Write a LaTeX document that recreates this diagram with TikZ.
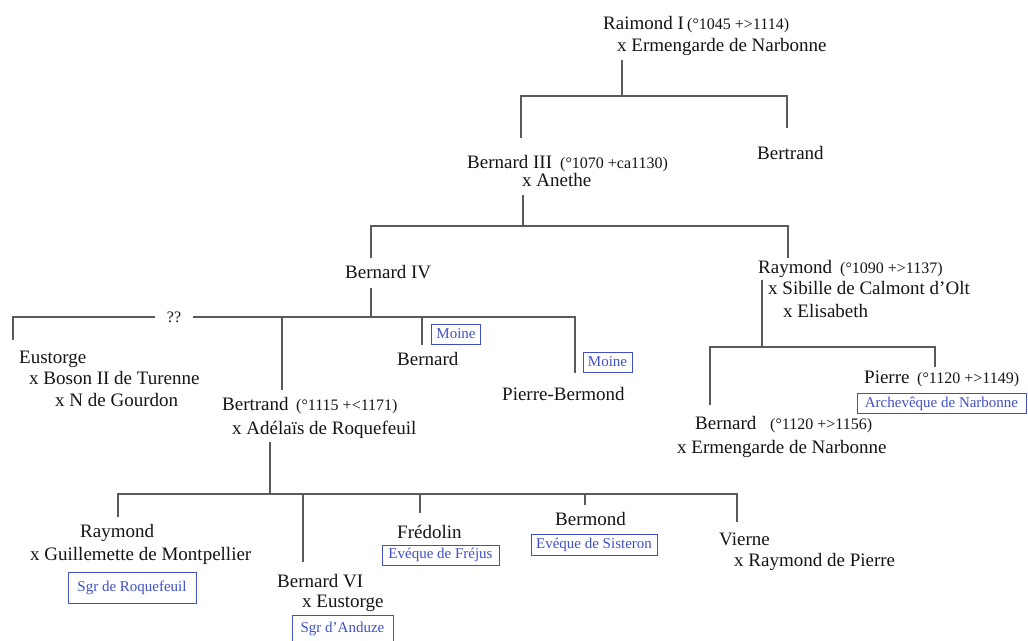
\documentclass[tikz,border=0pt]{standalone}
\usepackage{fontspec}
\setmainfont{Liberation Serif}
\definecolor{txt}{HTML}{141414}
\definecolor{lncol}{HTML}{5A5A5A}
\definecolor{tagblue}{HTML}{3F4FC8}
\newcommand{\nmfont}{\fontsize{19}{23}\selectfont}
\newcommand{\dtfont}{\fontsize{16}{19}\selectfont}
\newcommand{\tgfont}{\fontsize{15}{18}\selectfont}
\tikzset{
  pname/.style={anchor=base west, inner sep=0pt, font=\nmfont, text=txt},
  pdate/.style={anchor=base west, inner sep=0pt, font=\dtfont, text=txt},
  titlebox/.style={draw=tagblue, line width=0.9pt, text=tagblue, font=\tgfont, inner sep=0pt, minimum height=20pt, anchor=center},
  famline/.style={draw=lncol, line width=1.3pt}
}
\begin{document}
\begin{tikzpicture}[x=1pt,y=-1pt]
\useasboundingbox (0,0) rectangle (1028,640);
\clip (0,0) rectangle (1028,640);
% ---- texts
\node[pname] (r1) at (603,29) {Raimond I};
\node[pdate] (r1d) at (687,29) {(°1045 +>1114)};
\node[pname] (r1x) at (617,51) {x Ermengarde de Narbonne};
\node[pname] (b3) at (467,168) {Bernard III};
\node[pdate] (b3dt) at (560,168) {(°1070 +ca1130)};
\node[pname] (b3x) at (522,186) {x Anethe};
\node[pname] (bt) at (757,159) {Bertrand};
\node[pname] (b4) at (345,278) {Bernard IV};
\node[pname] (ra) at (758,273) {Raymond};
\node[pdate] (radt) at (840,273) {(°1090 +>1137)};
\node[pname] (rax1) at (768,294) {x Sibille de Calmont d'Olt};
\node[pname] (rax2) at (783,317) {x Elisabeth};
\node[pname] (eu) at (19,363) {Eustorge};
\node[pname] (eux1) at (29,384) {x Boson II de Turenne};
\node[pname] (eux2) at (55,406) {x N de Gourdon};
\node[pname] (be) at (222,410) {Bertrand};
\node[pdate] (bedt) at (296,410) {(°1115 +<1171)};
\node[pname] (bex) at (232,434) {x Adélaïs de Roquefeuil};
\node[pname] (bn) at (397,365) {Bernard};
\node[pname] (pb) at (502,400) {Pierre-Bermond};
\node[pname] (pi) at (864,383) {Pierre};
\node[pdate] (pidt) at (917,383) {(°1120 +>1149)};
\node[pname] (bnr) at (695,429) {Bernard};
\node[pdate] (bnrdt) at (770,429) {(°1120 +>1156)};
\node[pname] (bnrx) at (677,453) {x Ermengarde de Narbonne};
\node[pname] (rl) at (80,537) {Raymond};
\node[pname] (rlx) at (30,560) {x Guillemette de Montpellier};
\node[pname] (bv) at (277,587) {Bernard VI};
\node[pname] (bvx) at (302,607) {x Eustorge};
\node[pname] (fr) at (397,538) {Frédolin};
\node[pname] (bm) at (555,525) {Bermond};
\node[pname] (vi) at (719,545) {Vierne};
\node[pname] (vix) at (734,566) {x Raymond de Pierre};
% ---- title boxes
\node[titlebox, minimum width=49pt] (moine1) at (456,334) {Moine};
\node[titlebox, minimum width=49pt] (moine2) at (607.5,362) {Moine};
\node[titlebox, minimum width=169pt] (arch) at (941.5,403.5) {Archevêque de Narbonne};
\node[titlebox, minimum width=128pt, minimum height=31pt] (roq) at (132,587.5) {Sgr de Roquefeuil};
\node[titlebox, minimum width=101pt, minimum height=31pt] (andbox) at (342.5,631) {};
\node[inner sep=0pt, font=\tgfont, text=tagblue] (andt) at (342.5,628.5) {Sgr d'Anduze};
\node[titlebox, minimum width=117pt] (frej) at (440.5,555) {Evéque de Fréjus};
\node[titlebox, minimum width=126pt, minimum height=21pt] (sist) at (594,544.5) {Evéque de Sisteron};
% ---- unknown marker
\node[inner xsep=12pt, inner ysep=0pt, font=\dtfont, text=txt] (qq) at (174,317) {??};
% ---- coordinates
\coordinate (r1down) at (622,60);
\coordinate (r1j) at (622,96);
\coordinate (b3top) at (521,138);
\coordinate (bttop) at (787,128);
\coordinate (b3down) at (523,195);
\coordinate (b3j) at (523,226);
\coordinate (b4top) at (371,258);
\coordinate (ratop) at (788,258);
\coordinate (b4down) at (371,288);
\coordinate (b4j) at (371,317);
\coordinate (eutop) at (13,340);
\coordinate (bej) at (282,317);
\coordinate (betop) at (282,390);
\coordinate (bnj) at (422,317);
\coordinate (bntop) at (422,345);
\coordinate (pbtop) at (575,373);
\coordinate (radown) at (762,280);
\coordinate (raj) at (762,347);
\coordinate (bnrtop) at (710,405);
\coordinate (pitop) at (935,367);
\coordinate (bedown) at (270,442);
\coordinate (bebj) at (270,494);
\coordinate (rltop) at (118,517);
\coordinate (vitop) at (737,522);
\coordinate (bvj) at (303,494);
\coordinate (bvtop) at (303,562);
\coordinate (frj) at (420,494);
\coordinate (frtop) at (420,513);
\coordinate (bmj) at (585,494);
\coordinate (bmtop) at (585,505);
% ---- connectors
\draw[famline] (r1down) -- (r1j);
\draw[famline] (b3top) |- (r1j) -| (bttop);
\draw[famline] (b3down) -- (b3j);
\draw[famline] (b4top) |- (b3j) -| (ratop);
\draw[famline] (b4down) -- (b4j);
\draw[famline] (eutop) |- (qq.west);
\draw[famline] (qq.east) -| (pbtop);
\draw[famline] (bej) -- (betop);
\draw[famline] (bnj) -- (bntop);
\draw[famline] (radown) -- (raj);
\draw[famline] (bnrtop) |- (raj) -| (pitop);
\draw[famline] (bedown) -- (bebj);
\draw[famline] (rltop) |- (bebj) -| (vitop);
\draw[famline] (bvj) -- (bvtop);
\draw[famline] (frj) -- (frtop);
\draw[famline] (bmj) -- (bmtop);
\end{tikzpicture}
\end{document}
